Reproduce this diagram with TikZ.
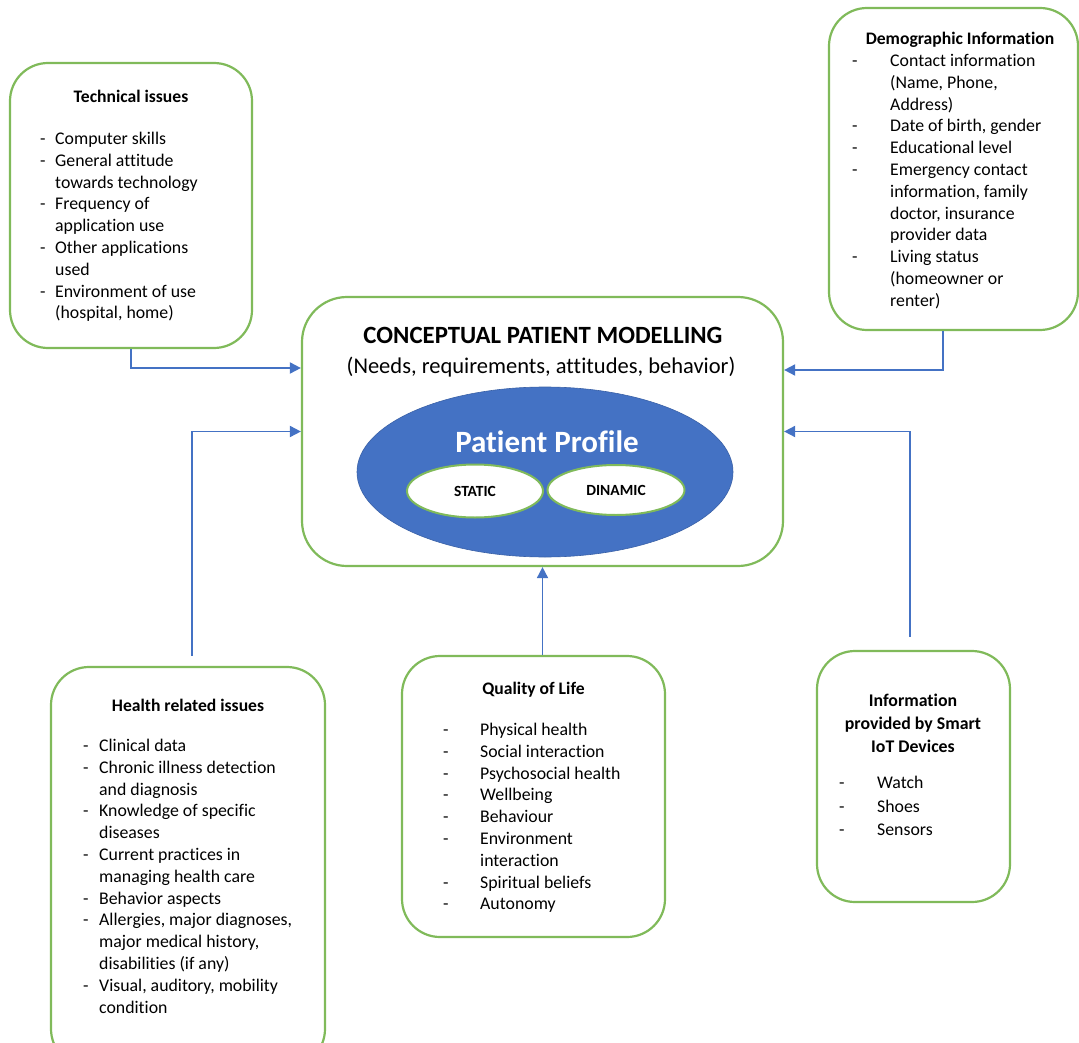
\documentclass[tikz,border=0pt]{standalone}
\usepackage{fontspec}
\setmainfont{Carlito}[Ligatures={NoCommon}]
\usetikzlibrary{shapes.geometric,arrows.meta}
\definecolor{boxgreen}{RGB}{128,186,90}
\definecolor{linkblue}{RGB}{68,114,196}
% a bullet line with a dash in a fixed-width gutter, and a continuation line
\newcommand\dashitem[2]{\makebox[#1][l]{-}#2}
\newcommand\contline[2]{\hspace*{#1}#2}

\begin{document}
\begin{tikzpicture}[x=1pt,y=-1pt,
  panel/.style={draw=boxgreen,line width=2.2pt,rounded corners=38pt,fill=white,inner sep=0,rectangle},
  heading/.style={font=\fontsize{17.6}{21.8}\selectfont\bfseries,align=center,inner sep=0},
  listtext/.style={font=\fontsize{17.8}{21.8}\selectfont,align=left,anchor=north west,inner sep=0},
  link/.style={draw=linkblue,line width=1.8pt,-{Triangle[length=11pt,width=11pt]}},
  inner/.style={ellipse,draw=boxgreen,line width=2pt,fill=white,inner sep=0,font=\fontsize{15.5}{17}\selectfont\bfseries}]

\useasboundingbox (0,0) rectangle (1079,1043);
\clip (0,0) rectangle (1079,1043);

% panels
\node[panel,minimum width=242pt,minimum height=285pt] (tech) at (131,205.5) {};
\node[panel,minimum width=249pt,minimum height=322pt] (demo) at (953.5,169) {};
\node[panel,minimum width=481pt,minimum height=269pt,rounded corners=45pt] (cpm) at (542.5,431.5) {};
\node[panel,minimum width=274pt,minimum height=400pt] (health) at (188,867) {};
\node[panel,minimum width=263pt,minimum height=281pt] (qol) at (533.5,796.5) {};
\node[panel,minimum width=193pt,minimum height=251pt] (iot) at (913.5,776.5) {};

% central model
\node[inner sep=0,font=\fontsize{24.8}{28}\selectfont\bfseries] (cpmtitle) at (543,335) {CONCEPTUAL PATIENT MODELLING};
\node[inner sep=0,font=\fontsize{22.5}{26}\selectfont] (cpmsub) at (541,367) {(Needs, requirements, attitudes, behavior)};
\node[ellipse,fill=linkblue,draw=linkblue!85!black,line width=0.6pt,minimum width=376pt,minimum height=170pt,inner sep=0] (profile) at (545,472) {};
\node[inner sep=0,text=white,font=\fontsize{31}{35}\selectfont\bfseries] (proftitle) at (547,442) {Patient Profile};
\node[inner,minimum width=136pt,minimum height=53pt] (static) at (475,491) {STATIC};
\node[inner,minimum width=137pt,minimum height=50pt] (dinamic) at (616,490) {DINAMIC};

% technical issues
\node[heading] (techhead) at (131,96) {Technical issues};
\node[listtext] (techlist) at (40,132) {%
\dashitem{15pt}{Computer skills}\\
\dashitem{15pt}{General attitude}\\
\contline{15pt}{towards technology}\\
\dashitem{15pt}{Frequency of}\\
\contline{15pt}{application use}\\
\dashitem{15pt}{Other applications}\\
\contline{15pt}{used}\\
\dashitem{15pt}{Environment of use}\\
\contline{15pt}{(hospital, home)}};

% demographic information
\node[heading] (demohead) at (960,40) {Demographic Information};
\node[listtext] (demolist) at (852,54) {%
\dashitem{38pt}{Contact information}\\
\contline{38pt}{(Name, Phone,}\\
\contline{38pt}{Address)}\\
\dashitem{38pt}{Date of birth, gender}\\
\dashitem{38pt}{Educational level}\\
\dashitem{38pt}{Emergency contact}\\
\contline{38pt}{information, family}\\
\contline{38pt}{doctor, insurance}\\
\contline{38pt}{provider data}\\
\dashitem{38pt}{Living status}\\
\contline{38pt}{(homeowner or}\\
\contline{38pt}{renter)}};

% health related issues
\node[heading] (healthhead) at (188,705) {Health related issues};
\node[listtext] (healthlist) at (83,739) {%
\dashitem{16pt}{Clinical data}\\
\dashitem{16pt}{Chronic illness detection}\\
\contline{16pt}{and diagnosis}\\
\dashitem{16pt}{Knowledge of specific}\\
\contline{16pt}{diseases}\\
\dashitem{16pt}{Current practices in}\\
\contline{16pt}{managing health care}\\
\dashitem{16pt}{Behavior aspects}\\
\dashitem{16pt}{Allergies, major diagnoses,}\\
\contline{16pt}{major medical history,}\\
\contline{16pt}{disabilities (if any)}\\
\dashitem{16pt}{Visual, auditory, mobility}\\
\contline{16pt}{condition}};

% quality of life
\node[heading] (qolhead) at (533.5,690) {Quality of Life};
\node[listtext] (qollist) at (443,723) {%
\dashitem{37pt}{Physical health}\\
\dashitem{37pt}{Social interaction}\\
\dashitem{37pt}{Psychosocial health}\\
\dashitem{37pt}{Wellbeing}\\
\dashitem{37pt}{Behaviour}\\
\dashitem{37pt}{Environment}\\
\contline{37pt}{interaction}\\
\dashitem{37pt}{Spiritual beliefs}\\
\dashitem{37pt}{Autonomy}};

% smart IoT devices
\node[heading,font=\fontsize{17.8}{23}\selectfont\bfseries] (iothead) at (913,723) {Information\\provided by Smart\\IoT Devices};
\node[listtext,font=\fontsize{17.8}{23.5}\selectfont] (iotlist) at (839,776) {%
\dashitem{38pt}{Watch}\\
\dashitem{38pt}{Shoes}\\
\dashitem{38pt}{Sensors}};

% connectors into the central model
\draw[link] (tech.south) |- ([yshift=63.5pt]cpm.west);
\draw[link] ([xshift=4pt,yshift=10pt]health.north) |- (cpm.west);
\draw[link] (cpm.south |- qol.north) -- (cpm.south);
\draw[link] ([xshift=-10.5pt]demo.south) |- ([yshift=61.5pt]cpm.east);
\draw[link] ([xshift=-3.5pt,yshift=13pt]iot.north) |- (cpm.east);
\end{tikzpicture}
\end{document}
